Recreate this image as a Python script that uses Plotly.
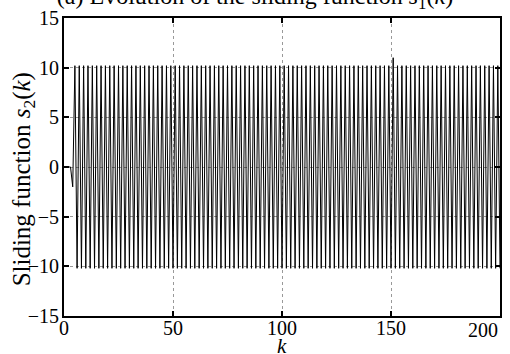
import plotly.graph_objects as go

# sample index k
k = list(range(201))

# sliding function values s2(k)
s2 = [0, 0, 0, 0, -2.0,
      10.2, -10.2, 10.2, -10.2, 10.2, -10.2, 10.2, -10.2, 10.2, -10.2,
      10.2, -10.2, 10.2, -10.2, 10.2, -10.2, 10.2, -10.2, 10.2, -10.2,
      10.2, -10.2, 10.2, -10.2, 10.2, -10.2, 10.2, -10.2, 10.2, -10.2,
      10.2, -10.2, 10.2, -10.2, 10.2, -10.2, 10.2, -10.2, 10.2, -10.2,
      10.2, -10.2, 10.2, -10.2, 10.2, -10.2, 10.2, -10.2, 10.2, -10.2,
      10.2, -10.2, 10.2, -10.2, 10.2, -10.2, 10.2, -10.2, 10.2, -10.2,
      10.2, -10.2, 10.2, -10.2, 10.2, -10.2, 10.2, -10.2, 10.2, -10.2,
      10.2, -10.2, 10.2, -10.2, 10.2, -10.2, 10.2, -10.2, 10.2, -10.2,
      10.2, -10.2, 10.2, -10.2, 10.2, -10.2, 10.2, -10.2, 10.2, -10.2,
      10.2, -10.2, 10.2, -10.2, 10.2, -10.2, 10.2, -10.2, 10.2, -10.2,
      10.2, -10.2, 10.2, -10.2, 10.2, -10.2, 10.2, -10.2, 10.2, -10.2,
      10.2, -10.2, 10.2, -10.2, 10.2, -10.2, 10.2, -10.2, 10.2, -10.2,
      10.2, -10.2, 10.2, -10.2, 10.2, -10.2, 10.2, -10.2, 10.2, -10.2,
      10.2, -10.2, 10.2, -10.2, 10.2, -10.2, 10.2, -10.2, 10.2, -10.2,
      10.2, -10.2, 10.2, -10.2, 10.2, -10.2, 11.0, -10.2, 10.2, -10.2,
      10.2, -10.2, 10.2, -10.2, 10.2, -10.2, 10.2, -10.2, 10.2, -10.2,
      10.2, -10.2, 10.2, -10.2, 10.2, -10.2, 10.2, -10.2, 10.2, -10.2,
      10.2, -10.2, 10.2, -10.2, 10.2, -10.2, 10.2, -10.2, 10.2, -10.2,
      10.2, -10.2, 10.2, -10.2, 10.2, -10.2, 10.2, -10.2, 10.2, -10.2,
      10.2, -10.2, 10.2, -10.2, 10.2, -10.2]

x_ticks = [0, 50, 100, 150]
y_ticks = [-15, -10, -5, 0, 5, 10, 15]
y_ticktext = ["\u221215", "\u221210", "\u22125", "0", "5", "10", "15"]

FONT = "Liberation Serif"

fig = go.Figure()
fig.add_trace(go.Scatter(x=k, y=s2, mode="lines",
                         line=dict(color="black", width=1),
                         showlegend=False))

fig.update_layout(
    width=510, height=354,
    margin=dict(l=64, r=10, t=18, b=38),
    paper_bgcolor="white", plot_bgcolor="white",
    font=dict(family=FONT, size=20, color="black"),
    title=dict(text="(a) Evolution of the sliding function <i>s</i><sub>1</sub>(<i>k</i>)",
               x=0.5, xanchor="center", y=0.99, yanchor="bottom",
               font=dict(family=FONT, size=24, color="black")),
)

fig.update_xaxes(range=[0, 200], tickvals=x_ticks, ticks="inside", ticklen=5,
                 tickwidth=1.5, tickcolor="black", showline=True, linecolor="black",
                 linewidth=2, mirror="allticks", showgrid=True, gridcolor="#999",
                 griddash="dot", gridwidth=1, zeroline=False, automargin=False,
                 tickfont=dict(size=20), ticklabelstandoff=-7)
fig.update_yaxes(range=[-15, 15], tickvals=y_ticks, ticktext=y_ticktext,
                 ticks="inside", ticklen=5, tickwidth=1.5, tickcolor="black",
                 showline=True, linecolor="black", linewidth=2, mirror="allticks",
                 showgrid=True, gridcolor="#999", griddash="dot", gridwidth=1,
                 zeroline=False, automargin=False, tickfont=dict(size=20),
                 ticklabelstandoff=-1)

fig.add_annotation(x=-0.093, y=0.46, xref="paper", yref="paper",
                   text="Sliding function <i>s</i><sub>2</sub>(<i>k</i>)",
                   textangle=-90, showarrow=False, xanchor="center", yanchor="middle",
                   font=dict(family=FONT, size=25, color="black"))

fig.add_annotation(x=100, y=-0.102, xref="x", yref="paper", text="<i>k</i>",
                   showarrow=False, xanchor="center", yanchor="middle",
                   font=dict(family=FONT, size=21, color="black"))

fig.add_annotation(x=200, y=0, xref="x", yref="paper", text="200",
                   showarrow=False, xanchor="right", yanchor="top", yshift=-1,
                   font=dict(family=FONT, size=20, color="black"))

fig.write_html("out.html")
